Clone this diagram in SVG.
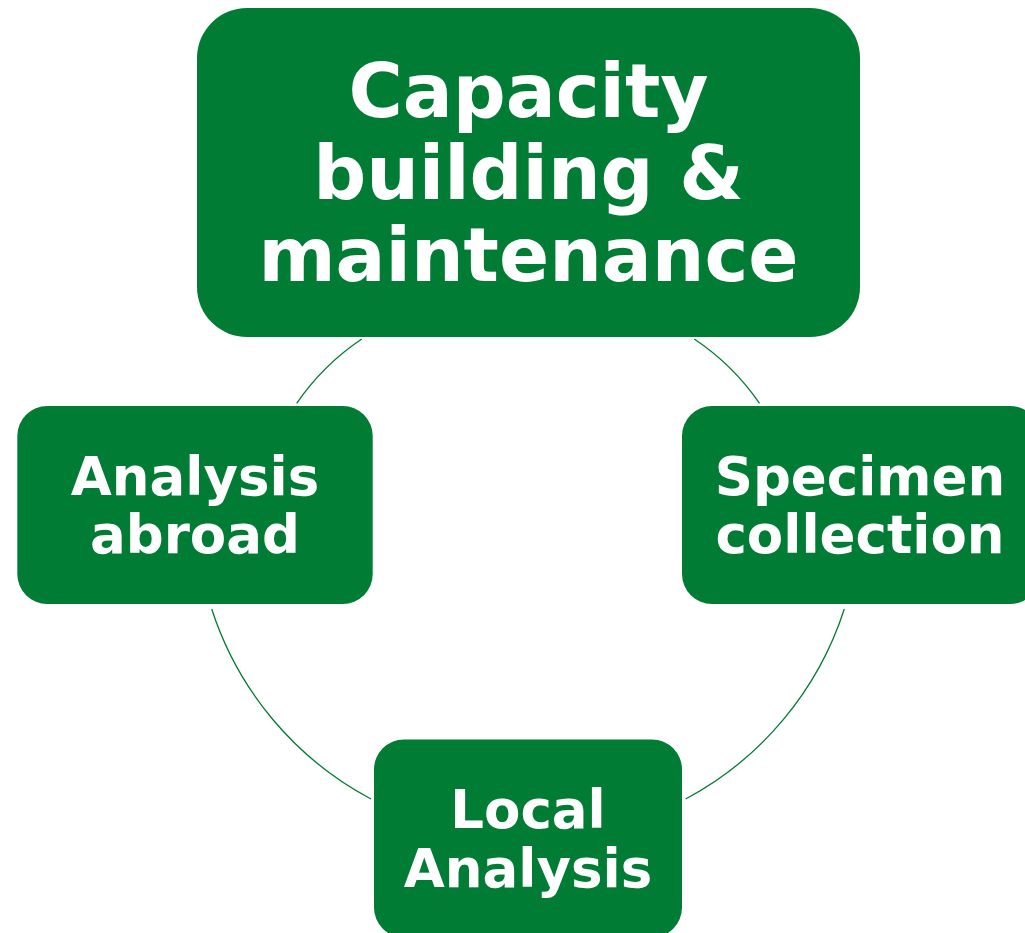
<svg xmlns="http://www.w3.org/2000/svg" width="1025" height="933" viewBox="0 0 1025 933">
  <style>
    .box { fill: #007C34; }
    .lbl { fill: #ffffff; font-family: "DejaVu Sans", Verdana, sans-serif; font-weight: bold; text-anchor: middle; }
    .big { font-size: 74px; }
    .small { font-size: 53px; }
    .arc { fill: none; stroke: #007C34; stroke-width: 1.3; }
  </style>
  <rect width="1025" height="933" fill="#ffffff"/>
  <g id="connectors">
    <path class="arc" d="M 296.7 403.3 A 245 245 0 0 1 361.7 339"/>
    <path class="arc" d="M 694.3 339 A 245 245 0 0 1 759.5 403.3"/>
    <path class="arc" d="M 844.3 609 A 330 330 0 0 1 685.7 799"/>
    <path class="arc" d="M 371 799 A 330 330 0 0 1 211.7 609"/>
  </g>
  <g id="node-capacity">
    <rect class="box" x="197" y="8" width="663" height="329" rx="50" ry="50"/>
    <text class="lbl big" x="528.5" y="117">Capacity</text>
    <text class="lbl big" x="528.5" y="199">building &amp;</text>
    <text class="lbl big" x="528.5" y="281">maintenance</text>
  </g>
  <g id="node-specimen">
    <rect class="box" x="682" y="406" width="358" height="198" rx="30" ry="30"/>
    <text class="lbl small" x="860" y="494.5">Specimen</text>
    <text class="lbl small" x="860" y="552.7">collection</text>
  </g>
  <g id="node-local">
    <rect class="box" x="374" y="739.5" width="308" height="198" rx="30" ry="30"/>
    <text class="lbl small" x="528" y="828.3">Local</text>
    <text class="lbl small" x="528" y="886.7">Analysis</text>
  </g>
  <g id="node-abroad">
    <rect class="box" x="17.3" y="406" width="355.4" height="198" rx="30" ry="30"/>
    <text class="lbl small" x="195" y="494.5">Analysis</text>
    <text class="lbl small" x="195" y="552.7">abroad</text>
  </g>
</svg>
